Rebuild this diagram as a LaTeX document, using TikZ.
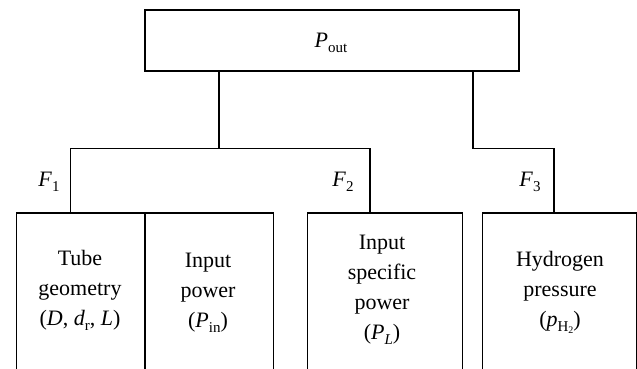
\documentclass[tikz,border=0pt]{standalone}
\usepackage{fontspec}
\setmainfont{Liberation Serif}
\newcommand\lsub[1]{\raisebox{-0.5ex}{\fontsize{15}{15}\selectfont #1}}
\newcommand\lsubb[1]{\raisebox{-0.3ex}{\fontsize{10}{10}\selectfont #1}}
\begin{document}
\begin{tikzpicture}[x=1pt,y=-1pt,
  every node/.style={font=\fontsize{22}{30}\selectfont},
  box/.style={draw, line width=1.5pt, rectangle, inner sep=0pt, anchor=north west},
  label/.style={inner sep=0pt, align=center},
  wire/.style={line width=1.5pt}]
\useasboundingbox (0,0) rectangle (637,369);
\clip (0,0) rectangle (637,369);

% top box
\node[box, minimum width=374pt, minimum height=61pt] (top) at (144,9.3) {};
\node[label] (pout) at (331,43) {\textit{P}\lsub{out}};

% lower boxes (open at the bottom, run past the page edge)
\node[box, minimum width=128.3pt, minimum height=220pt] (b1) at (15.7,212) {};
\node[box, minimum width=128.7pt, minimum height=220pt] (b2) at (144,212) {};
\node[box, minimum width=155pt, minimum height=220pt] (b3) at (306.7,212) {};
\node[box, minimum width=154.3pt, minimum height=220pt] (b4) at (481.7,212) {};

% box texts
\node[label] (t1) at (80,290) {Tube\\geometry\\(\textit{D}, \textit{d}\lsub{r}, \textit{L})};
\node[label] (t2) at (208,293) {Input\\power\\(\textit{P}\lsub{in})};
\node[label] (t3) at (382,290) {Input\\specific\\power\\(\textit{P}\lsub{\textit{L}})};
\node[label] (t4) at (560,292) {Hydrogen\\pressure\\(\textit{p}\lsub{H\lsubb{2}})};

% junction points of the tree
\coordinate (j1) at (219,148.7);
\coordinate (jl) at (70.7,148.7);
\coordinate (jm) at (370,148.7);
\coordinate (jr1) at (473,148.7);
\coordinate (jr2) at (554,148.7);

% connectors
\draw[wire] (top.south -| j1) -- (j1);
\draw[wire] (b1.north -| jl) -- (jl) -- (jm) -- (b3.north -| jm);
\draw[wire] (top.south -| jr1) -- (jr1) -- (jr2) -- (b4.north -| jr2);

% factor labels
\node[label] (f1) at (49,182) {\textit{F}\lsub{1}};
\node[label] (f2) at (343,182) {\textit{F}\lsub{2}};
\node[label] (f3) at (530,182) {\textit{F}\lsub{3}};
\end{tikzpicture}
\end{document}
